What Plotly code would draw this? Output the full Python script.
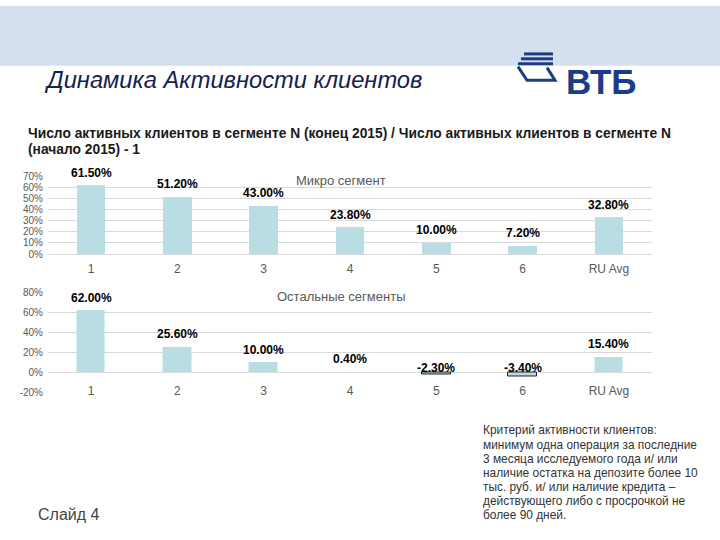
import plotly.graph_objects as go

W, H = 720, 540

# данные
categories = ['1', '2', '3', '4', '5', '6', 'RU Avg']
micro_values = [61.5, 51.2, 43.0, 23.8, 10.0, 7.2, 32.8]
other_values = [62.0, 25.6, 10.0, 0.4, -2.3, -3.4, 15.4]
micro_ticks = [0, 10, 20, 30, 40, 50, 60, 70]
other_ticks = [-20, 0, 20, 40, 60, 80]

title = 'Динамика Активности клиентов'
subtitle_lines = ['Число активных клиентов в сегменте N (конец 2015) / Число активных клиентов в сегменте N',
                  '(начало 2015) - 1']
note_lines = [
    'Критерий активности клиентов:',
    'минимум одна операция за последние',
    '3 месяца исследуемого года и/ или',
    'наличие остатка на депозите более 10',
    'тыс. руб. и/ или наличие кредита –',
    'действующего либо с просрочкой не',
    'более 90 дней.',
]


def px(x):
    return x / W


def py(y):
    return 1 - y / H


BAR = '#b8dde3'
GRID = '#d9d9d9'
TICK = '#595959'
SANS = 'Liberation Sans, Arial'

fig = go.Figure()

fig.add_trace(go.Bar(x=categories, y=micro_values, width=0.33,
                     marker=dict(color=BAR, line=dict(width=0)),
                     xaxis='x', yaxis='y', hoverinfo='skip'))

fig.add_trace(go.Bar(x=categories, y=other_values, width=0.33,
                     marker=dict(color=BAR,
                                 line=dict(color=['rgba(0,0,0,0)' if v >= 0 else '#222222' for v in other_values],
                                           width=1)),
                     xaxis='x2', yaxis='y2', hoverinfo='skip'))

# области графиков
x_dom = [px(48), px(652)]
y1_dom = [py(253.7), py(174)]
y2_dom = [py(395.5), py(293)]
y2_range = [-20, 80]
zero2 = y2_dom[0] + (0 - y2_range[0]) / (y2_range[1] - y2_range[0]) * (y2_dom[1] - y2_dom[0])

yax = dict(showgrid=True, gridcolor=GRID, gridwidth=1,
           zeroline=True, zerolinecolor=GRID, zerolinewidth=1,
           tickfont=dict(family=SANS, size=10, color=TICK), ticklabelstandoff=4,
           showline=False, ticks='')
xax = dict(showgrid=False, showline=False, ticks='', zeroline=False,
           tickfont=dict(family=SANS, size=12, color=TICK))

fig.update_layout(
    width=W, height=H,
    margin=dict(l=0, r=0, t=0, b=0),
    paper_bgcolor='white', plot_bgcolor='white',
    showlegend=False,
    bargap=0,
    xaxis=dict(domain=x_dom, anchor='y', ticklabelstandoff=6, **xax),
    yaxis=dict(domain=y1_dom, range=[0, 70], tickvals=micro_ticks,
               ticktext=[f'{t}%' for t in micro_ticks], anchor='x', **yax),
    xaxis2=dict(domain=x_dom, anchor='free', position=zero2, ticklabelstandoff=9, **xax),
    yaxis2=dict(domain=y2_dom, range=y2_range, tickvals=other_ticks,
                ticktext=[f'{t}%' for t in other_ticks], anchor='x2', **yax),
)


def note(x, y, text, size, color, xanchor='left', bold=False):
    return dict(x=px(x), y=py(y), xref='paper', yref='paper', xanchor=xanchor, yanchor='middle',
                text=text, showarrow=False, align='left',
                font=dict(family=SANS, size=size, color=color, weight='bold' if bold else 'normal'))


ann = []
# подписи значений (x — индекс категории)
for i, v in enumerate(micro_values):
    ann.append(dict(x=i, y=max(v, 0), xref='x', yref='y', text=f'{v:.2f}%', showarrow=False,
                    yanchor='middle', yshift=13,
                    font=dict(family=SANS, size=12, color='black', weight='bold')))
for i, v in enumerate(other_values):
    ann.append(dict(x=i, y=max(v, 0), xref='x2', yref='y2', text=f'{v:.2f}%', showarrow=False,
                    yanchor='middle', yshift=13 if v >= 0 else 5,
                    font=dict(family=SANS, size=12, color='black', weight='bold')))

# заголовки графиков
ann.append(note(341, 178, 'Микро сегмент', 13, TICK, xanchor='center'))
ann.append(note(341, 297, 'Остальные сегменты', 13, TICK, xanchor='center'))

# шапка
ann.append(note(42, 76, '<i>' + title + '</i>', 23.7, '#13214f'))
ann.append(note(564, 77, 'ВТБ', 35, '#1c3c88', bold=True))
for i, line in enumerate(subtitle_lines):
    ann.append(note(26, 130 + i * 17, line, 13.8, '#1a1a1a', bold=True))

# примечание
for i, line in enumerate(note_lines):
    ann.append(note(481, 434 + i * 14.5, line, 11.9, '#333333'))

ann.append(note(36, 520, 'Слайд 4', 16, '#444444'))

fig.update_layout(annotations=ann)

# фон шапки и логотип
shapes = [dict(type='rect', xref='paper', yref='paper', x0=0, x1=1, y0=py(61), y1=1,
               fillcolor='#d5e0ee', line=dict(width=0), layer='below')]
logo = '#1c3c88'
for y0, xa in [(49, 524), (54, 521), (59, 518)]:
    shapes.append(dict(type='line', xref='paper', yref='paper', x0=px(xa), x1=px(553), y0=py(y0), y1=py(y0),
                       line=dict(color=logo, width=3)))
shapes.append(dict(type='path', xref='paper', yref='paper',
                   path=f'M {px(518)} {py(62)} L {px(527)} {py(76)} L {px(555)} {py(76)} L {px(547)} {py(63)}',
                   line=dict(color=logo, width=3)))
fig.update_layout(shapes=shapes)

post = ("document.documentElement.style.margin='0';document.body.style.margin='0';"
        "document.body.style.padding='0';document.body.style.overflow='hidden';"
        "var d=document.getElementById('{plot_id}');d.style.position='fixed';"
        "d.style.top='0px';d.style.left='0px';")
fig.write_html('out.html', config={'displayModeBar': False}, post_script=post)
